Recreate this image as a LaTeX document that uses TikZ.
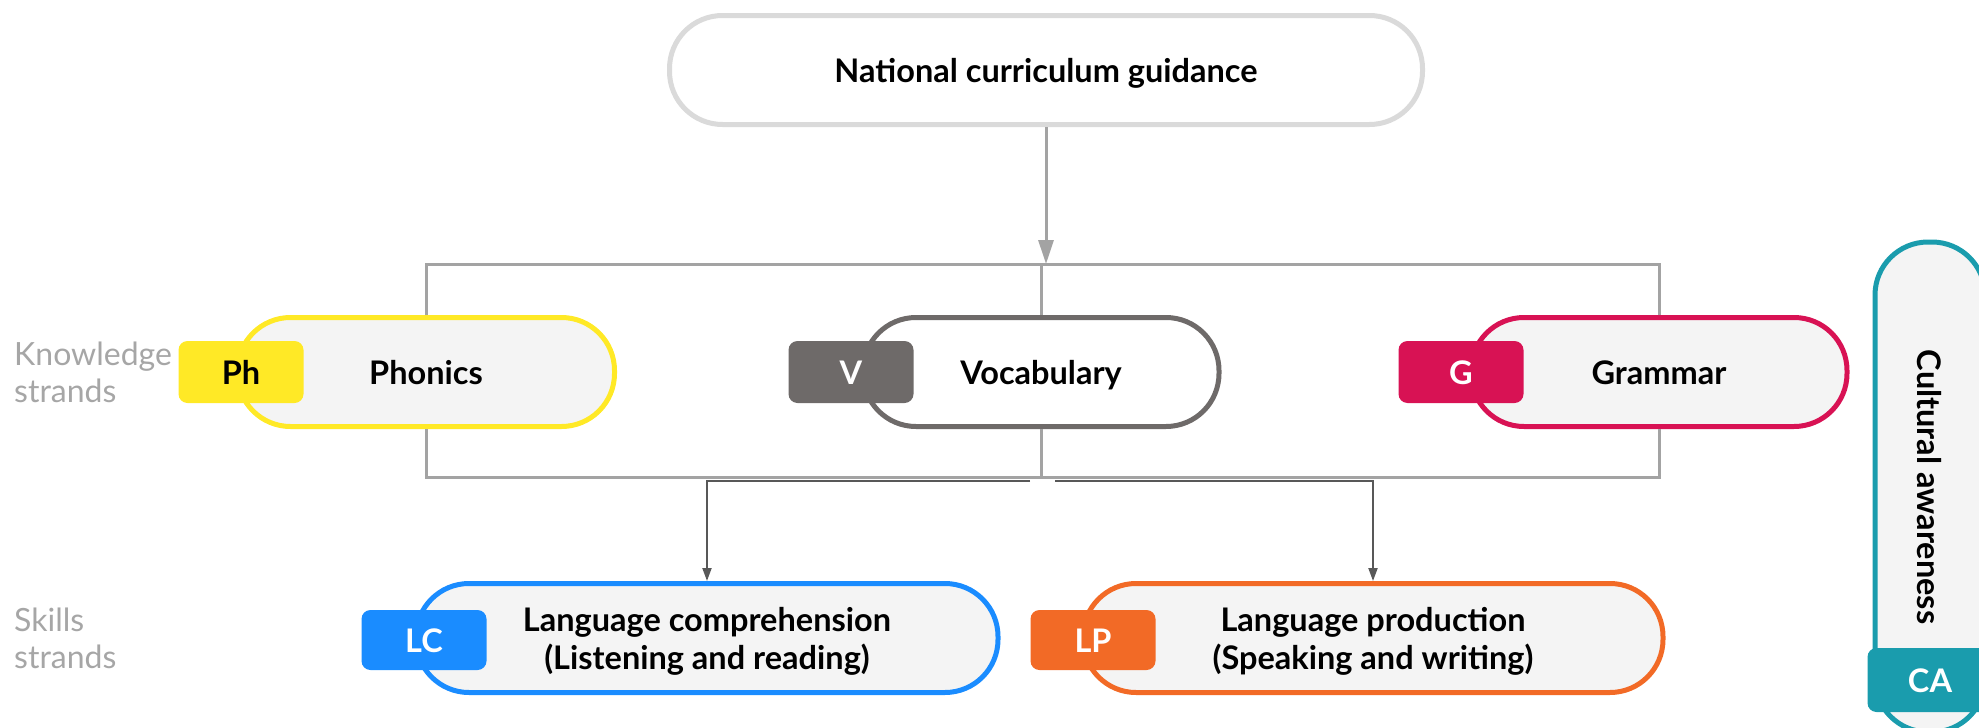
\documentclass[tikz,border=0pt]{standalone}
\usepackage{fontspec}
\setmainfont{Lato}
\usetikzlibrary{arrows.meta}
\definecolor{phyellow}{HTML}{FFE926}
\definecolor{vgray}{HTML}{6E6A69}
\definecolor{grred}{HTML}{D81254}
\definecolor{lcblue}{HTML}{1A8CFF}
\definecolor{lporange}{HTML}{F26A26}
\definecolor{cateal}{HTML}{1A9CAD}
\definecolor{pillfill}{HTML}{F4F4F4}
\definecolor{linkgray}{HTML}{A3A3A3}
\definecolor{arrowgray}{HTML}{585858}
\definecolor{sidegray}{HTML}{A6A6A6}
\definecolor{topgray}{HTML}{DADADA}

\tikzset{
  pill/.style={draw,line width=5pt,rounded corners=53pt,minimum height=109pt,
    align=center,fill=pillfill,text=black,font=\bfseries\fontsize{32.5}{38}\selectfont},
  oneline/.style={text height=28pt,text depth=3pt},
  twoline/.style={text height=66pt,text depth=3pt},
  tagbox/.style={rounded corners=9pt,minimum width=125pt,minimum height=62pt,
    inner sep=0pt,text=white,text height=24pt,text depth=0pt,
    font=\bfseries\fontsize{32.5}{38}\selectfont},
  link/.style={draw=linkgray,line width=3pt},
  down/.style={draw=arrowgray,line width=2pt,-{Triangle[length=13pt,width=9pt]}},
  side/.style={align=left,text=sidegray,anchor=west,inner sep=0pt,
    font=\fontsize{32}{37}\selectfont}
}

\begin{document}
\begin{tikzpicture}[x=1pt,y=-1pt]
\useasboundingbox (0,0) rectangle (1979,728);
\clip (0,0) rectangle (1979,728);
%
\coordinate (topbar) at (1046,264);
\coordinate (botbar) at (1041,477);
\coordinate (botl) at (1030,481);
\coordinate (botr) at (1055,481);
%
\node[pill,oneline,draw=topgray,fill=white,minimum width=753pt] (ncg) at (1046,70) {National curriculum guidance};
%
\node[pill,oneline,draw=phyellow,minimum width=377pt] (ph) at (426,372) {Phonics};
\node[pill,oneline,draw=vgray,fill=white,minimum width=356pt] (voc) at (1041,372) {Vocabulary};
\node[pill,oneline,draw=grred,minimum width=376pt] (gr) at (1659,372) {Grammar};
%
\node[pill,twoline,draw=lcblue,minimum width=582pt] (lc) at (707,638) {Language comprehension\\(Listening and reading)};
\node[pill,twoline,draw=lporange,minimum width=580pt] (lp) at (1373,638) {Language production\\(Speaking and writing)};
%
\node[pill,oneline,draw=cateal,rotate=-90,minimum width=490pt,minimum height=110pt] (ca) at (1930,487) {Cultural awareness};
%
\draw[link,-{Triangle[length=24pt,width=15pt]}] (ncg.south) -- (ncg.south |- topbar);
\draw[link] (ph.north) |- (topbar) -| (gr.north);
\draw[link] (voc.north) -- (voc.north |- topbar);
\draw[link] (ph.south) |- (botbar) -| (gr.south);
\draw[link] (voc.south) -- (botbar);
\draw[down] (botl) -| (lc.north);
\draw[down] (botr) -| (lp.north);
%
\node[tagbox,fill=phyellow,text=black] (phtag) at (241,372) {Ph};
\node[tagbox,fill=vgray] (vtag) at (851,372) {V};
\node[tagbox,fill=grred] (gtag) at (1461,372) {G};
\node[tagbox,fill=lcblue,minimum height=60pt] (lctag) at (424,640) {LC};
\node[tagbox,fill=lporange,minimum height=60pt] (lptag) at (1093,640) {LP};
\node[tagbox,fill=cateal,minimum height=64pt] (catag) at (1930,680) {CA};
%
\node[side] (know) at (14,372) {Knowledge\\strands};
\node[side] (skill) at (14,638) {Skills\\strands};
\end{tikzpicture}
\end{document}
